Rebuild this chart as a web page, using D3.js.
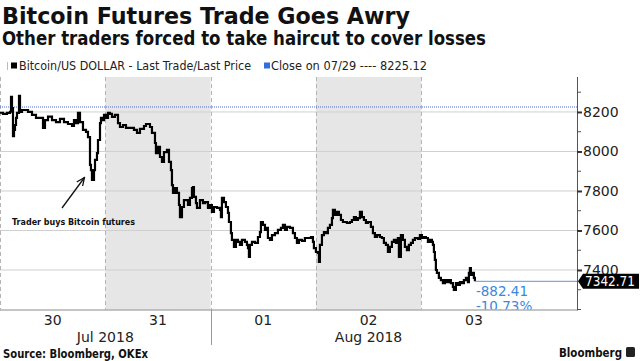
<!DOCTYPE html>
<html><head><meta charset="utf-8">
<script src="https://cdn.jsdelivr.net/npm/d3@7"></script>
<style>
html,body{margin:0;padding:0;background:#fff;}
svg{display:block;font-family:"DejaVu Sans",Verdana,sans-serif;}
</style></head>
<body><svg id="c" width="640" height="361"></svg>
<script>
// ---------- data ----------
const title = "Bitcoin Futures Trade Goes Awry";
const subtitle = "Other traders forced to take haircut to cover losses";
const legendSeries = "Bitcoin/US DOLLAR - Last Trade/Last Price";
const legendClose = "Close on 07/29 ---- 8225.12";
const closeValue = 8225.12;
const lastValue = 7342.71;
const changeAbs = "-882.41";
const changePct = "-10.73%";
const annotation = "Trader buys Bitcoin futures";
const source = "Source: Bloomberg, OKEx";
const dayLabels = ["30","31","01","02","03"];
const monthLabels = ["Jul 2018","Aug 2018"];
const yTickLabels = [7400,7600,7800,8000,8200];
const yMinorTicks = [7200,7300,7500,7700,7900,8100,8300];
// hours after 2018-07-30 00:00
const hours = [0,0.68,1.59,2.28,2.51,2.73,2.96,3.19,3.42,3.65,3.87,4.33,4.56,5.01,5.70,6.38,7.29,8.20,9.11,9.80,10.25,10.94,11.85,12.76,13.67,14.58,15.49,16.41,16.86,17.32,17.77,18.23,18.91,19.60,20.05,20.51,20.73,20.96,21.42,21.65,22.10,22.33,22.79,23.01,23.47,23.70,24.15,24.61,25.06,25.52,26.20,26.89,27.34,28.03,28.71,29.62,30.53,31.22,31.90,32.81,33.27,34.18,34.63,35.32,35.54,36.00,36.46,36.91,37.37,38.05,38.51,38.96,39.19,39.42,39.87,40.33,40.79,41.01,41.47,41.92,42.38,42.84,43.29,43.75,43.98,44.20,44.66,44.89,45.57,46.25,46.71,47.39,47.85,48.30,48.76,49.44,50.13,50.35,50.58,51.04,51.49,51.95,52.18,52.63,52.86,53.32,53.77,54.23,54.68,55.14,55.82,56.28,56.51,56.73,56.96,57.42,58.10,58.79,59.24,59.47,59.92,60.38,60.84,61.06,61.52,61.98,62.66,63.34,64.03,64.48,64.94,65.39,66.08,66.76,67.22,67.67,68.13,68.81,69.49,70.18,70.86,71.32,71.54,72.00,72.46,72.68,72.91,73.37,73.82,74.28,74.73,75.19,75.65,75.87,76.33,76.79,77.24,77.70,78.15,78.61,79.06,79.75,80.20,80.66,81.11,81.57,82.03,82.48,82.94,83.39,83.85,84.53,84.99,85.44,85.90,86.58,87.04,87.49,87.95,88.41,88.86,89.32,89.77,90.23,90.68,90.91,91.37,91.82,92.28,92.74,93.19,93.65,94.10,94.56,95.24,95.70,96.15,96.61,97.06,97.52,97.98,98.43,98.66,98.89,99.11,99.34,99.57,100.02,100.48,100.94,101.39,101.85,102.30,102.76,103.22,103.44,103.90,104.36,104.81,105.27,105.72,106.18,106.64,106.86,107.09,107.32,107.77,108.00,108.23];
const prices = [8196,8190,8195,8201,8276,8220,8078,8109,8134,8170,8195,8281,8200,8210,8210,8200,8185,8170,8170,8119,8159,8176,8159,8149,8165,8149,8139,8129,8159,8144,8195,8149,8109,8099,8073,7932,7906,7856,7906,7957,7992,8058,8144,8170,8159,8185,8170,8195,8190,8175,8185,8144,8124,8134,8119,8119,8109,8094,8114,8129,8139,8124,8094,8043,7992,8023,7972,7947,7997,8008,7947,7906,7830,7790,7815,7790,7729,7668,7719,7754,7754,7729,7765,7815,7820,7770,7739,7714,7754,7739,7744,7714,7729,7694,7719,7714,7704,7668,7765,7744,7719,7689,7643,7587,7552,7517,7552,7542,7527,7552,7542,7527,7511,7466,7527,7542,7537,7567,7592,7643,7628,7603,7613,7562,7552,7577,7587,7603,7613,7628,7603,7618,7613,7587,7562,7537,7552,7547,7562,7562,7567,7542,7511,7491,7486,7441,7527,7577,7592,7587,7613,7628,7663,7704,7679,7694,7679,7653,7643,7643,7638,7643,7653,7668,7653,7663,7694,7668,7653,7638,7643,7618,7587,7567,7577,7567,7562,7537,7527,7491,7517,7542,7552,7537,7562,7466,7577,7552,7517,7501,7527,7537,7552,7562,7557,7577,7562,7567,7562,7542,7552,7542,7527,7491,7451,7400,7385,7360,7349,7334,7349,7339,7349,7334,7314,7299,7334,7324,7339,7334,7349,7360,7339,7385,7410,7375,7385,7360,7342.71];

// ---------- layout ----------
const svg = d3.select("#c");
const L = 0, R = 577, T = 77, B = 309.5;
const start = Date.UTC(2018,6,30);
const H = 3600e3;
const data = hours.map((h,i)=>({t:new Date(start+h*H), v:prices[i]}));
const x = d3.scaleUtc().domain([new Date(start), new Date(start+131.5*H)]).range([L, R]);
const y = d3.scaleLinear().domain([7200, 8377]).range([B, T]);
const dayStarts = d3.range(5).map(i=>new Date(start+i*24*H));

// titles
svg.append("text").attr("x",2).attr("y",24).attr("font-size",23).attr("font-weight","bold")
  .attr("textLength",408).attr("lengthAdjust","spacingAndGlyphs").attr("fill","#111").text(title);
svg.append("text").attr("x",2).attr("y",45).attr("font-size",19).attr("font-weight","bold")
  .attr("textLength",484).attr("lengthAdjust","spacingAndGlyphs").attr("fill","#111").text(subtitle);

// legend
svg.append("rect").attr("x",7).attr("y",62).attr("width",1).attr("height",8).attr("fill","#bbb");
svg.append("rect").attr("x",11).attr("y",62.5).attr("width",6).attr("height",6).attr("fill","#000");
svg.append("text").attr("x",19).attr("y",70).attr("font-size",11.5).attr("fill","#222")
  .attr("textLength",232).attr("lengthAdjust","spacingAndGlyphs").text(legendSeries);
svg.append("rect").attr("x",264).attr("y",62.5).attr("width",6).attr("height",6).attr("fill","#2f6fe0");
svg.append("text").attr("x",271).attr("y",70).attr("font-size",11.5).attr("fill","#222")
  .attr("textLength",156).attr("lengthAdjust","spacingAndGlyphs").text(legendClose);

// shaded days (Jul 31, Aug 2)
[1,3].forEach(i=>{
  svg.append("rect").attr("x",x(dayStarts[i])).attr("y",T)
    .attr("width",x(new Date(+dayStarts[i]+24*H))-x(dayStarts[i])).attr("height",B-T)
    .attr("fill","#e6e6e6");
});

// horizontal gridlines
svg.append("g").selectAll("line").data(yTickLabels).join("line")
  .attr("x1",L).attr("x2",R).attr("y1",d=>y(d)).attr("y2",d=>y(d))
  .attr("stroke","#cfcfcf").attr("stroke-width",1);

// vertical dashed day lines
svg.append("g").selectAll("line").data(dayStarts).join("line")
  .attr("x1",d=>Math.round(x(d))+0.5).attr("x2",d=>Math.round(x(d))+0.5).attr("y1",T).attr("y2",B)
  .attr("stroke","#b5b5b5").attr("stroke-width",1).attr("stroke-dasharray","4,3");

// close line
svg.append("line").attr("x1",L).attr("x2",R).attr("y1",y(closeValue)).attr("y2",y(closeValue))
  .attr("stroke","#4a6fe0").attr("stroke-width",1).attr("stroke-dasharray","1,1");

// price line
svg.append("path").datum(data)
  .attr("d", d3.line().x(d=>x(d.t)).y(d=>y(d.v)).curve(d3.curveStepAfter))
  .attr("fill","none").attr("stroke","#000").attr("stroke-width",2.2).attr("stroke-linejoin","miter");

// last value line & change texts
const lastT = data[data.length-1].t;
svg.append("line").attr("x1",x(lastT)).attr("x2",R).attr("y1",y(lastValue)).attr("y2",y(lastValue))
  .attr("stroke","#5b95e0").attr("stroke-width",1);
svg.append("clipPath").attr("id","pc").append("rect").attr("x",L).attr("y",T).attr("width",R-L).attr("height",B-T);
const cg = svg.append("g").attr("clip-path","url(#pc)");
cg.append("text").attr("x",x(lastT)+1).attr("y",y(lastValue)+15).attr("font-size",13.5).attr("fill","#3a86e0").text(changeAbs);
cg.append("text").attr("x",x(lastT)+1).attr("y",y(lastValue)+30).attr("font-size",13.5).attr("fill","#3a86e0").text(changePct);

// bottom axis line
svg.append("line").attr("x1",L).attr("x2",R).attr("y1",B+0.5).attr("y2",B+0.5).attr("stroke","#8a8a8a");
// right axis
const ya = d3.axisRight(y).tickValues(yTickLabels).tickSize(5).tickPadding(2).tickFormat(d3.format("d"));
const gy = svg.append("g").attr("transform",`translate(${R},0)`).call(ya);
gy.select(".domain").attr("stroke","#555").attr("d",`M0.5,${T}V${B+1}`);
gy.selectAll(".tick line").attr("stroke","#333").attr("stroke-width",2);
gy.selectAll(".tick text").attr("font-size",14).attr("fill","#222").attr("font-family","DejaVu Sans, sans-serif").attr("x",6);
svg.append("g").selectAll("line").data(yMinorTicks).join("line")
  .attr("x1",R).attr("x2",R+4).attr("y1",d=>y(d)).attr("y2",d=>y(d)).attr("stroke","#555");

// last value tag
const ly = y(lastValue);
svg.append("path").attr("d",`M${R+1},${ly} L${R+6},${ly-7.5} L639,${ly-7.5} L639,${ly+7.5} L${R+6},${ly+7.5} Z`).attr("fill","#000");
svg.append("text").attr("x",R+8).attr("y",ly+5).attr("font-size",13.5).attr("fill","#fff")
  .attr("textLength",50).attr("lengthAdjust","spacingAndGlyphs").text(lastValue.toFixed(2));

// x labels
svg.append("g").selectAll("text").data(dayLabels).join("text")
  .attr("x",(d,i)=>x(new Date(+dayStarts[i]+12*H))).attr("y",325).attr("text-anchor","middle")
  .attr("font-size",14).attr("fill","#222").text(d=>d);
const monthPos = [new Date(+dayStarts[1]), new Date(+dayStarts[3]+12*H)];
svg.append("g").selectAll("text").data(monthLabels).join("text")
  .attr("x",(d,i)=>x(monthPos[i])).attr("y",342).attr("text-anchor","middle")
  .attr("font-size",14).attr("fill","#222").text(d=>d);
svg.append("line").attr("x1",Math.round(x(dayStarts[2]))+0.5).attr("x2",Math.round(x(dayStarts[2]))+0.5)
  .attr("y1",B).attr("y2",345).attr("stroke","#999");

// annotation
svg.append("text").attr("x",12).attr("y",225).attr("font-size",8.5).attr("font-weight","bold").attr("fill","#111")
  .attr("textLength",123).attr("lengthAdjust","spacingAndGlyphs").text(annotation);
svg.append("defs").append("marker").attr("id","ah").attr("viewBox","0 0 10 10").attr("refX",9).attr("refY",5)
  .attr("markerWidth",7).attr("markerHeight",7).attr("orient","auto")
  .append("path").attr("d","M0,1 L9,5 L0,9").attr("fill","none").attr("stroke","#111").attr("stroke-width",1.4);
svg.append("line").attr("x1",62).attr("y1",208).attr("x2",84.5).attr("y2",177.5)
  .attr("stroke","#111").attr("stroke-width",1.3).attr("marker-end","url(#ah)");

// footer
svg.append("text").attr("x",3).attr("y",358).attr("font-size",12).attr("font-weight","bold").attr("fill","#111")
  .attr("textLength",145).attr("lengthAdjust","spacingAndGlyphs").text(source);
svg.append("text").attr("x",559).attr("y",357).attr("font-size",12.5).attr("font-weight","bold").attr("fill","#111")
  .attr("textLength",63).attr("lengthAdjust","spacingAndGlyphs").text("Bloomberg");
svg.append("rect").attr("x",626).attr("y",347).attr("width",9).attr("height",10).attr("rx",1.5).attr("fill","#222");
</script></body></html>
